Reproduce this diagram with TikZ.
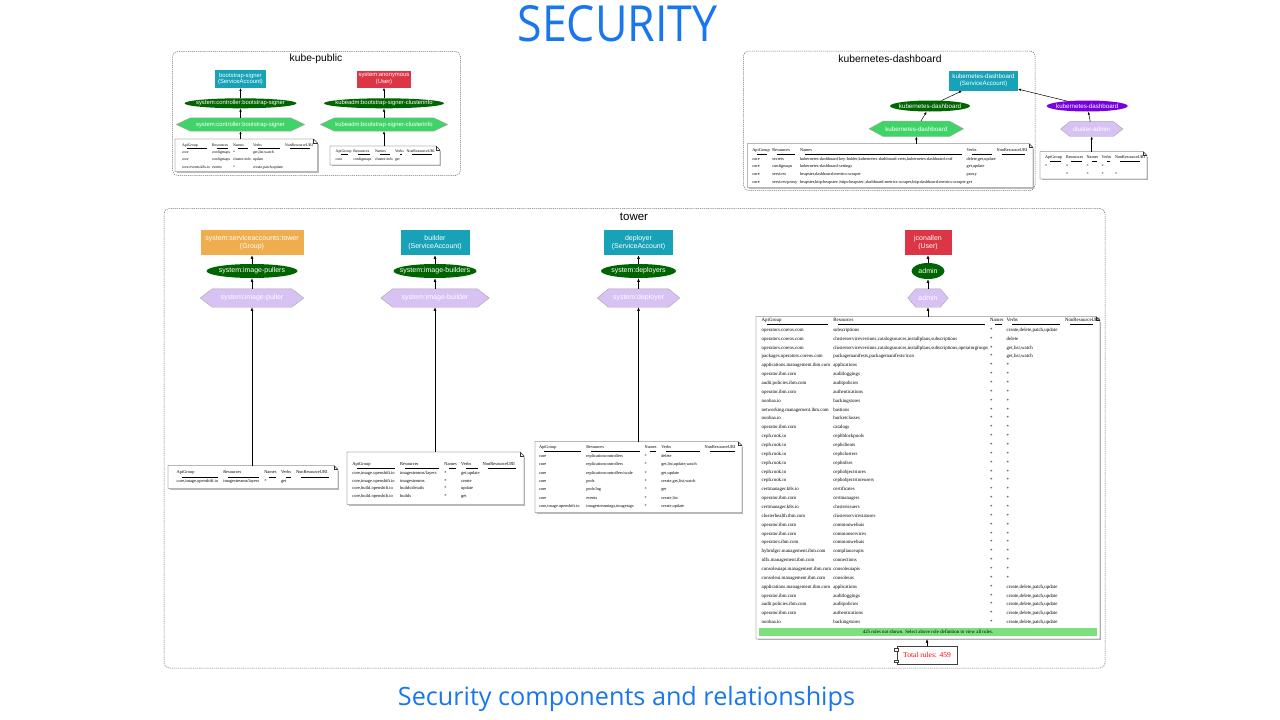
\documentclass[tikz,border=0pt]{standalone}
\usepackage{fontspec}
\setmainfont{Liberation Serif}
\newfontfamily\gvfont{Liberation Sans}
\newfontfamily\ttlfont{Open Sans}
\usepackage{array}
\usepackage{booktabs}
\usepackage{graphicx}
\usetikzlibrary{shapes.geometric,arrows.meta}
\pgfdeclarelayer{bg}
\pgfsetlayers{bg,main}

\definecolor{ttlblue}{RGB}{24,118,238}
\definecolor{sateal}{RGB}{23,162,184}
\definecolor{usrred}{RGB}{220,53,69}
\definecolor{grporange}{RGB}{240,173,78}
\definecolor{rbgreen}{RGB}{0,100,0}
\definecolor{crbpurple}{RGB}{120,0,224}
\definecolor{rolegreen}{RGB}{64,212,104}
\definecolor{crlav}{RGB}{216,194,244}
\definecolor{bargreen}{RGB}{124,224,124}
\definecolor{clgray}{RGB}{110,110,110}

\newcommand\kpf{\gvfont\fontsize{5.9}{6.8}\selectfont}
\newcommand\kdf{\gvfont\fontsize{6.2}{7.2}\selectfont}
\newcommand\twf{\gvfont\fontsize{7}{8.6}\selectfont}

\newcommand\hdrrow{ApiGroup & Resources & Names & Verbs & NonResourceURI\\ \cmidrule(lr){1-1}\cmidrule(lr){2-2}\cmidrule(lr){3-3}\cmidrule(lr){4-4}\cmidrule(lr){5-5}}
\newcommand\ra[2]{#1 & #2 & * & * & \\}
\newcommand\rc[2]{#1 & #2 & * & create,delete,patch,update & \\}

% hexagon: style, name, cx, cy, w, h, tip, text
\newcommand\hexn[8]{%
  \node[hexl, minimum width=#5, minimum height=#6] (#2) at (#3,#4) {#8};
  \begin{pgfonlayer}{bg}
    \filldraw[#1] (#2.west) -- ([xshift=#7pt]#2.north west) -- ([xshift=-#7pt]#2.north east) -- (#2.east) -- ([xshift=-#7pt]#2.south east) -- ([xshift=#7pt]#2.south west) -- cycle;
  \end{pgfonlayer}}

% note outline: name, x1, y1, x2, y2
\newcommand\gvnote[5]{%
  \node[inner sep=0, outer sep=0, minimum width={#4-#2}, minimum height={#5-#3}] (#1) at ({(#2+#4)/2},{(#3+#5)/2}) {};
  \draw[gray!55, line width=1pt] ([xshift=1.5pt,yshift=-0.5pt]#1.south west) -- ([xshift=0.5pt,yshift=-0.5pt]#1.south east) -- ([xshift=0.5pt,yshift=-5pt]#1.north east);
  \filldraw[fill=white, draw=black!80, line width=0.45pt] (#1.north west) -- ([xshift=-4pt]#1.north east) -- ([yshift=-4pt]#1.north east) -- (#1.south east) -- (#1.south west) -- cycle;
  \draw[black!80, line width=0.45pt] ([xshift=-4pt]#1.north east) -- ([xshift=-4pt,yshift=-4pt]#1.north east) -- ([yshift=-4pt]#1.north east);}

% table: name, x, header centre y, font, step, rule sep, colspec, body
\newcommand\gvtable[8]{%
  \node[anchor=north west, inner sep=0pt, outer sep=0pt] (#1) at ({#2},{#3-0.7*#5+0.27*#4}) {\fontsize{#4}{#5}\selectfont\setlength\tabcolsep{0pt}\setlength\aboverulesep{#6pt}\setlength\belowrulesep{#6pt}\setlength\cmidrulewidth{0.35pt}\begin{tabular}{@{}#7@{}}\hdrrow #8\end{tabular}};}

\begin{document}
\begin{tikzpicture}[x=1pt,y=-1pt,
  conn/.style={-{Latex[length=3pt,width=2.4pt]}, line width=0.5pt, black},
  connT/.style={-{Latex[length=3.6pt,width=2.8pt]}, line width=0.55pt, black},
  cluster/.style={draw=clgray, dash pattern=on 1.2pt off 0.9pt, rounded corners=5pt, line width=0.5pt, inner sep=0},
  clabel/.style={inner sep=0, text=black},
  boxn/.style={rectangle, inner sep=0, text=white, align=center},
  ell/.style={ellipse, inner sep=0, text=white},
  hexl/.style={rectangle, inner sep=0, text=white},
  rolefill/.style={fill=rolegreen, draw=gray!70, line width=0.4pt},
  lavfill/.style={fill=crlav, draw=gray!70, line width=0.4pt}]

\begin{pgfonlayer}{bg}
  \fill[white] (0,0) rectangle (1280,720);
\end{pgfonlayer}
\useasboundingbox (0,0) rectangle (1280,720);

% titles
\node[text=ttlblue, inner sep=0] (title) at (617.5,24) {\resizebox{200pt}{36pt}{\ttlfont SECURITY}};
\node[text=ttlblue, inner sep=0] (caption) at (626.5,699) {\resizebox{457pt}{!}{\ttlfont Security components and relationships}};

% ================= kube-public =================
\node[cluster, minimum width=288, minimum height=124] (kpub) at (316.5,113.5) {};
\node[clabel, font=\gvfont\fontsize{10.3}{12}\selectfont] (kpubL) at (316,58.5) {kube-public};

\node[boxn, fill=sateal, minimum width=51, minimum height=17.5, font=\kpf] (bs) at (240.5,79) {bootstrap-signer\\(ServiceAccount)};
\node[ell, fill=rbgreen, minimum width=112, minimum height=10, font=\kpf] (bsrb) at (240.5,103.3) {\makebox[0pt]{system:controller:bootstrap-signer}};
\hexn{rolefill}{bsrole}{240.5}{124.5}{128}{13}{14}{\kpf system:controller:bootstrap-signer}

\node[boxn, fill=usrred, minimum width=54.5, minimum height=17, font=\kpf] (anon) at (384,79) {system:anonymous\\(User)};
\node[ell, fill=rbgreen, minimum width=120, minimum height=10, font=\kpf] (cirb) at (384,103.3) {\makebox[0pt]{kubeadm:bootstrap-signer-clusterinfo}};
\hexn{rolefill}{cirole}{384}{124.5}{127}{13}{14}{\kpf kubeadm:bootstrap-signer-clusterinfo}

\gvnote{kpT1}{175}{139}{317.5}{171.5}
\gvtable{kpT1t}{182}{145}{3.9}{7.2}{0}{w{l}{30pt}w{l}{21pt}w{l}{20pt}w{l}{32pt}w{l}{30pt}}{%
core & configmaps & * & get,list,watch & \\
core & configmaps & cluster-info & update & \\
core.events.k8s.io & events & * & create,patch,update & \\}

\gvnote{kpT2}{330}{146}{440}{165}
\gvtable{kpT2t}{335.7}{151}{3.9}{7.5}{0.1}{w{l}{17.6pt}w{l}{21.7pt}w{l}{20pt}w{l}{11.7pt}w{l}{30pt}}{%
core & configmaps & cluster-info & get & \\}

\draw[conn] (bsrb) -- (bs);
\draw[conn] (bsrole) -- (bsrb);
\draw[conn] (kpT1.north -| bsrole) -- (bsrole);
\draw[conn] (cirb) -- (anon);
\draw[conn] (cirole) -- (cirb);
\draw[conn] (kpT2.north -| cirole) -- (cirole);

% ================= kubernetes-dashboard =================
\node[cluster, minimum width=291.5, minimum height=139.5] (kdash) at (889.25,120.75) {};
\node[clabel, font=\gvfont\fontsize{10.3}{12}\selectfont] (kdashL) at (890,58.7) {kubernetes-dashboard};

\node[boxn, fill=sateal, minimum width=68.5, minimum height=20, font=\kdf] (kdsa) at (983.5,80.7) {kubernetes-dashboard\\(ServiceAccount)};
\node[ell, fill=rbgreen, minimum width=80, minimum height=11, font=\kdf] (kdrb) at (930,106) {\makebox[0pt]{kubernetes-dashboard}};
\hexn{rolefill}{kdrole}{916.3}{128.8}{94}{15}{14}{\kdf kubernetes-dashboard}
\node[ell, fill=crbpurple, minimum width=81, minimum height=11, font=\kdf] (kdcrb) at (1087.2,106) {\makebox[0pt]{kubernetes-dashboard}};
\hexn{lavfill}{kdcr}{1091.7}{129}{62}{14.5}{9.5}{\kdf cluster-admin}

\gvnote{kdT1}{747.5}{143.5}{1033}{187.5}
\gvtable{kdT1t}{752.3}{150.7}{4.3}{7.8}{0}{w{l}{20pt}w{l}{27.7pt}w{l}{166.7pt}w{l}{30pt}w{l}{33pt}}{%
core & secrets & kubernetes-dashboard-key-holder,kubernetes-dashboard-certs,kubernetes-dashboard-csrf & delete,get,update & \\
core & configmaps & kubernetes-dashboard-settings & get,update & \\
core & services & heapster,dashboard-metrics-scraper & proxy & \\
core & services/proxy & heapster,http:heapster:,https:heapster:,dashboard-metrics-scraper,http:dashboard-metrics-scraper & get & \\}

\gvnote{kdT2}{1040}{151.5}{1147}{179}
\gvtable{kdT2t}{1045}{157.3}{4.2}{8.3}{0}{w{l}{21pt}w{l}{20.7pt}w{l}{15pt}w{l}{13.3pt}w{l}{30pt}}{%
* & * & * & * & \\
* & * & * & * & * \\}

\draw[conn] (kdrb) -- (kdsa);
\draw[conn] (kdrole) -- (kdrb);
\draw[conn] (kdT1.north -| kdrole) -- (kdrole);
\draw[conn] (kdcrb) -- (kdsa);
\draw[conn] (kdcr) -- (kdcrb);
\draw[conn] (kdT2.north -| kdcr) -- (kdcr);

% ================= tower =================
\node[cluster, minimum width=941, minimum height=459.5] (tower) at (634.5,438.25) {};
\node[clabel, font=\gvfont\fontsize{11.5}{13}\selectfont] (towerL) at (634,217) {tower};

% column 1
\node[boxn, fill=grporange, minimum width=103, minimum height=25, font=\twf] (grp) at (252,242.5) {system:serviceaccounts:tower\\(Group)};
\node[ell, fill=rbgreen, minimum width=91, minimum height=14, font=\twf] (pullrb) at (252,271) {\makebox[0pt]{system:image-pullers}};
\hexn{lavfill}{pullrole}{252}{298}{103}{18}{12}{\twf system:image-puller}
\gvnote{twT1}{168}{465.5}{338}{488.5}
\gvtable{twT1t}{176.7}{472.3}{4.4}{7.5}{0.8}{w{l}{46.6pt}w{l}{41pt}w{l}{16.7pt}w{l}{15pt}w{l}{38pt}}{%
core,image.openshift.io & imagestreams/layers & * & get & \\}

% column 2
\node[boxn, fill=sateal, minimum width=69, minimum height=25, font=\twf] (bld) at (435,242.5) {builder\\(ServiceAccount)};
\node[ell, fill=rbgreen, minimum width=83, minimum height=14, font=\twf] (bldrb) at (435,271) {\makebox[0pt]{system:image-builders}};
\hexn{lavfill}{bldrole}{435}{298}{108}{18}{12}{\twf system:image-builder}
\gvnote{twT2}{347}{452}{524}{504.5}
\gvtable{twT2t}{352.3}{464.3}{4.5}{7.5}{0.6}{w{l}{47.7pt}w{l}{44.3pt}w{l}{16.7pt}w{l}{21.7pt}w{l}{38pt}}{%
core,image.openshift.io & imagestreams/layers & * & get,update & \\
core,image.openshift.io & imagestreams & * & create & \\
core,build.openshift.io & builds/details & * & update & \\
core,build.openshift.io & builds & * & get & \\}

% column 3
\node[boxn, fill=sateal, minimum width=69, minimum height=25, font=\twf] (dep) at (638.5,242.5) {deployer\\(ServiceAccount)};
\node[ell, fill=rbgreen, minimum width=75, minimum height=14, font=\twf] (deprb) at (638.5,271) {\makebox[0pt]{system:deployers}};
\hexn{lavfill}{deprole}{638.5}{298}{82}{18}{11}{\twf system:deployer}
\gvnote{twT3}{535}{441.5}{742}{512.5}
\gvtable{twT3t}{539}{447.3}{4.3}{8.4}{0}{w{l}{47.3pt}w{l}{58.4pt}w{l}{16.6pt}w{l}{43.4pt}w{l}{35pt}}{%
core & replicationcontrollers & * & delete & \\
core & replicationcontrollers & * & get,list,update,watch & \\
core & replicationcontrollers/scale & * & get,update & \\
core & pods & * & create,get,list,watch & \\
core & pods/log & * & get & \\
core & events & * & create,list & \\
core,image.openshift.io & imagestreamtags,imagetags & * & create,update & \\}

% column 4
\node[boxn, fill=usrred, minimum width=47, minimum height=25, font=\twf] (jc) at (928,242.5) {jconallen\\(User)};
\node[ell, fill=rbgreen, minimum width=33, minimum height=16, font=\twf] (admrb) at (928,271) {\makebox[0pt]{admin}};
\hexn{lavfill}{admrole}{928}{298}{40}{18}{8}{\twf admin}
\gvnote{twT4}{756}{316.5}{1100}{639}
\gvtable{twT4t}{761.7}{320}{4.9}{8.86}{0.4}{w{l}{71.6pt}w{l}{156.7pt}w{l}{16.7pt}w{l}{58.3pt}w{l}{33pt}}{%
operators.coreos.com & subscriptions & * & create,delete,patch,update & \\
operators.coreos.com & clusterserviceversions,catalogsources,installplans,subscriptions & * & delete & \\
operators.coreos.com & clusterserviceversions,catalogsources,installplans,subscriptions,operatorgroups & * & get,list,watch & \\
packages.operators.coreos.com & packagemanifests,packagemanifests/icon & * & get,list,watch & \\
\ra{applications.management.ibm.com}{applications}
\ra{operator.ibm.com}{auditloggings}
\ra{audit.policies.ibm.com}{auditpolicies}
\ra{operator.ibm.com}{authentications}
\ra{noobaa.io}{backingstores}
\ra{networking.management.ibm.com}{bastions}
\ra{noobaa.io}{bucketclasses}
\ra{operator.ibm.com}{catalogs}
\ra{ceph.rook.io}{cephblockpools}
\ra{ceph.rook.io}{cephclients}
\ra{ceph.rook.io}{cephclusters}
\ra{ceph.rook.io}{cephnfses}
\ra{ceph.rook.io}{cephobjectstores}
\ra{ceph.rook.io}{cephobjectstoreusers}
\ra{certmanager.k8s.io}{certificates}
\ra{operator.ibm.com}{certmanagers}
\ra{certmanager.k8s.io}{clusterissuers}
\ra{clusterhealth.ibm.com}{clusterservicestatuses}
\ra{operator.ibm.com}{commonwebuis}
\ra{operator.ibm.com}{commonservices}
\ra{operators.ibm.com}{commonwebuis}
\ra{hybridgrc.management.ibm.com}{complianceapis}
\ra{idfx.management.ibm.com}{connections}
\ra{consoleuiapi.management.ibm.com}{consoleuiapis}
\ra{consoleui.management.ibm.com}{consoleuis}
\rc{applications.management.ibm.com}{applications}
\rc{operator.ibm.com}{auditloggings}
\rc{audit.policies.ibm.com}{auditpolicies}
\rc{operator.ibm.com}{authentications}
\rc{noobaa.io}{backingstores}}
\node[fill=bargreen, inner sep=0, minimum width=338, minimum height=8, font=\fontsize{4.9}{5.5}\selectfont] (morebar) at (928,632) {425 rules not shown. Select above role definition to view all rules.};

\node[draw=black!75, line width=0.5pt, fill=white, text=red, minimum width=60.5, minimum height=17.5, inner sep=0, font=\fontsize{7.5}{8.5}\selectfont] (totrules) at (927,655.3) {Total rules: 459};
\draw[black!75, line width=0.45pt, fill=white] ([xshift=-2pt,yshift=-2pt]totrules.north west) rectangle ([xshift=2pt,yshift=-4.5pt]totrules.north west);
\draw[black!75, line width=0.45pt, fill=white] ([xshift=-2pt,yshift=2pt]totrules.south west) rectangle ([xshift=2pt,yshift=4.5pt]totrules.south west);

% tower connectors
\draw[connT] (pullrb) -- (grp);
\draw[connT] (pullrole) -- (pullrb);
\draw[connT] (twT1.north -| pullrole) -- (pullrole);
\draw[connT] (bldrb) -- (bld);
\draw[connT] (bldrole) -- (bldrb);
\draw[connT] (twT2.north -| bldrole) -- (bldrole);
\draw[connT] (deprb) -- (dep);
\draw[connT] (deprole) -- (deprb);
\draw[connT] (twT3.north -| deprole) -- (deprole);
\draw[connT] (admrb) -- (jc);
\draw[connT] (admrole) -- (admrb);
\draw[connT] (twT4.north -| admrole) -- (admrole);
\draw[connT] (totrules) -- (totrules.north |- twT4.south);

\end{tikzpicture}
\end{document}
